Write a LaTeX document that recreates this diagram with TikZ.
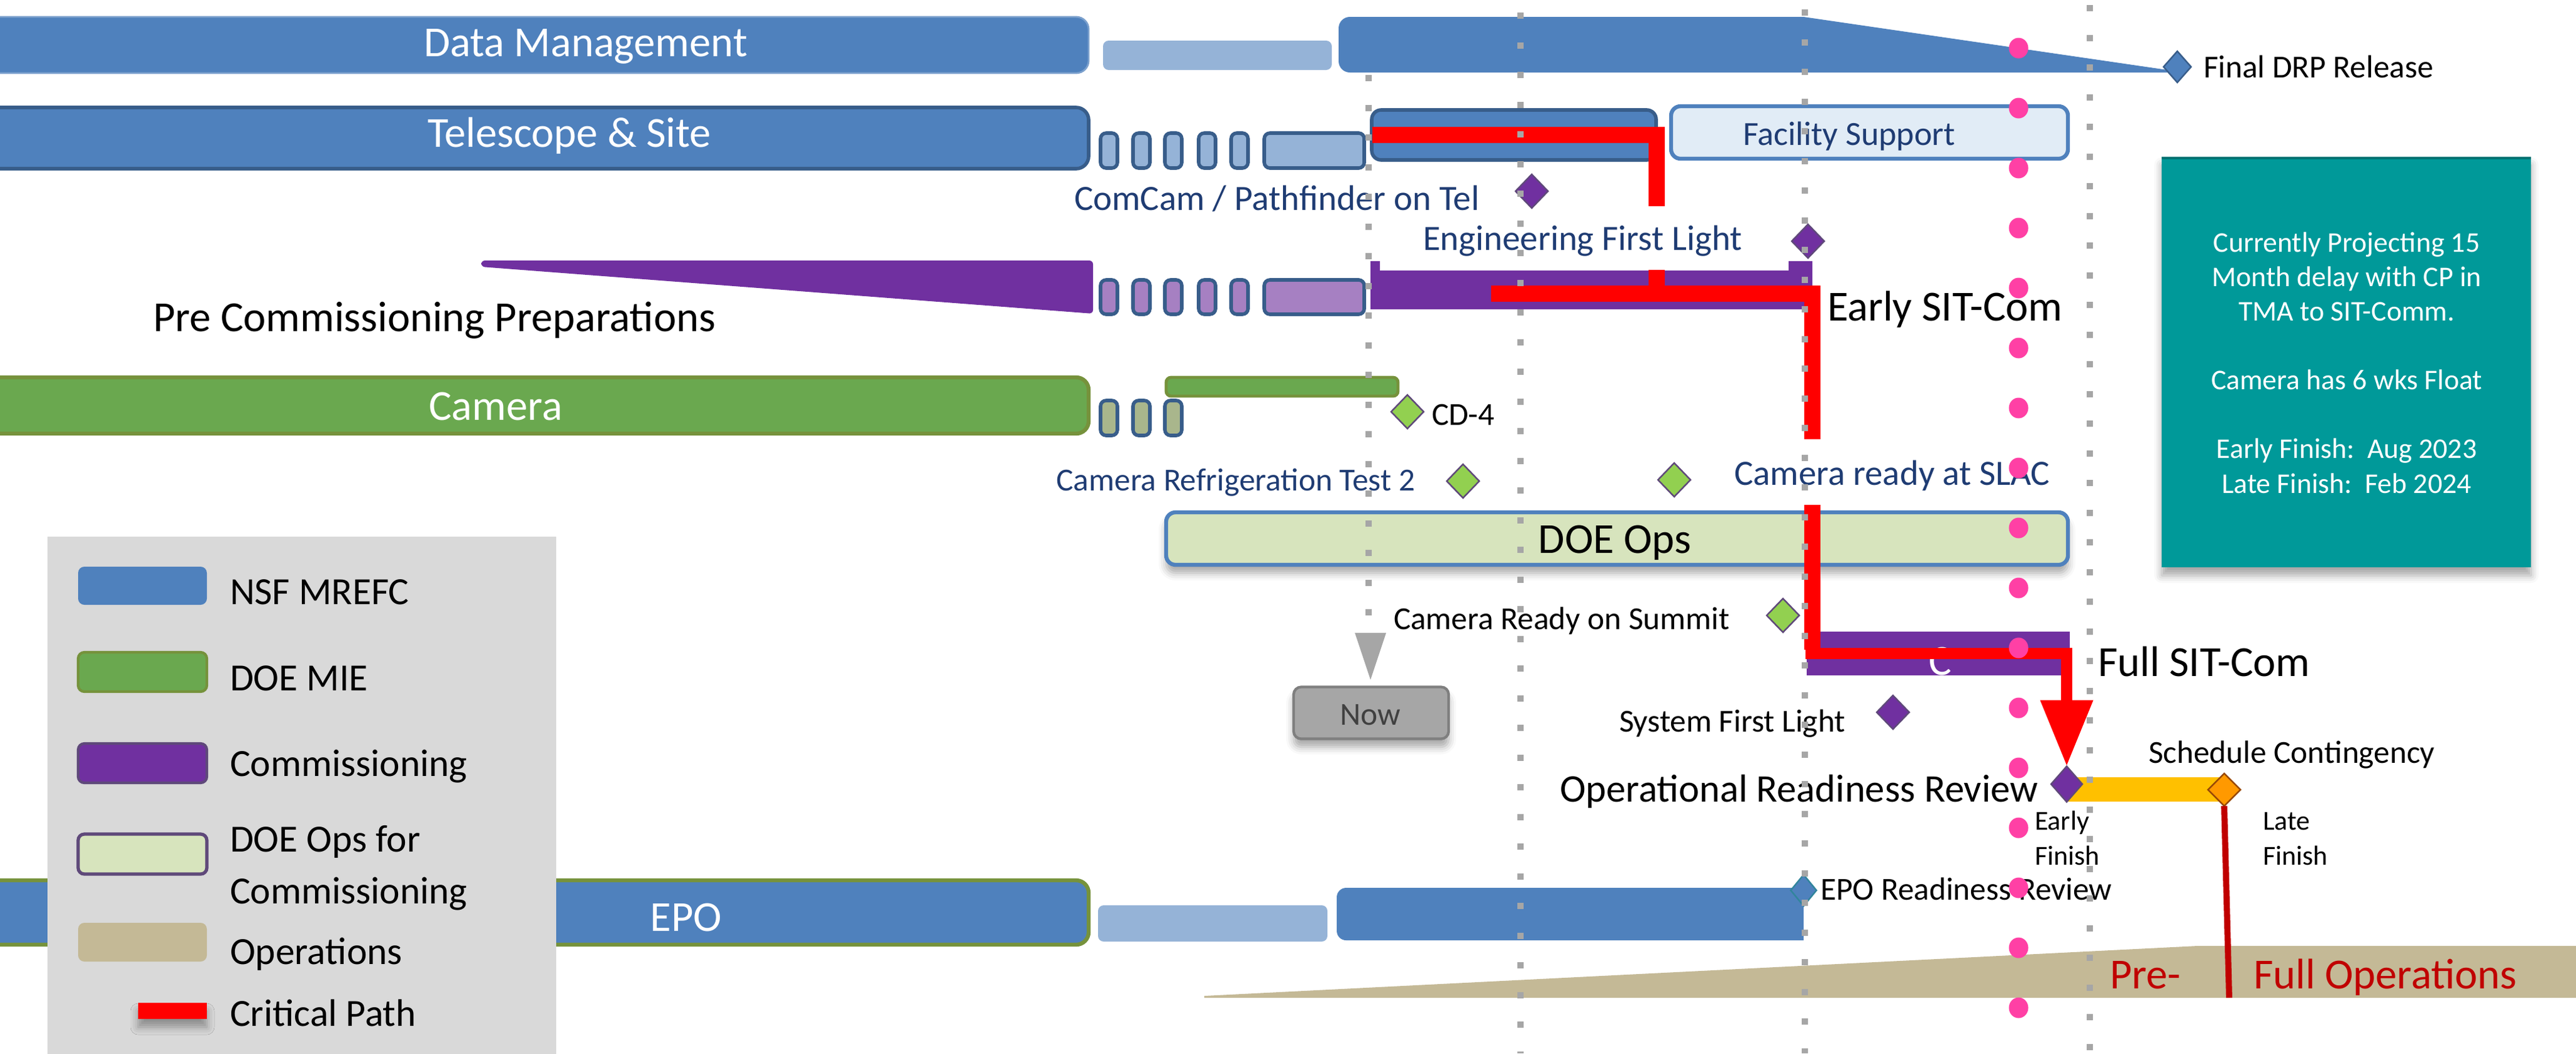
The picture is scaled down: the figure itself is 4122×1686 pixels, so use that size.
\documentclass[tikz,border=0pt]{standalone}
\usepackage{fontspec}
\setmainfont{Carlito}
\usetikzlibrary{shapes.geometric,arrows.meta,shadows.blur}
\definecolor{blueM}{HTML}{4F81BD}
\definecolor{blueL}{HTML}{95B3D7}
\definecolor{navyB}{HTML}{385D8A}
\definecolor{purp}{HTML}{7030A0}
\definecolor{purpL}{HTML}{A680C2}
\definecolor{purpB}{HTML}{5F497A}
\definecolor{grn}{HTML}{6AA84F}
\definecolor{grnB}{HTML}{76923C}
\definecolor{grnL}{HTML}{D7E4BD}
\definecolor{grnD}{HTML}{92D050}
\definecolor{grnG}{HTML}{A9B68C}
\definecolor{cTan}{HTML}{C4B996}
\definecolor{cTeal}{HTML}{009999}
\definecolor{tealB}{HTML}{31859C}
\definecolor{pinkD}{HTML}{FF40A5}
\definecolor{legG}{HTML}{D9D9D9}
\definecolor{navyT}{HTML}{1F3C73}
\definecolor{facF}{HTML}{E1ECF6}
\definecolor{redC}{HTML}{FF0000}
\definecolor{redD}{HTML}{C00000}
\definecolor{amber}{HTML}{FFC000}
\definecolor{orng}{HTML}{FF9900}
\definecolor{orngB}{HTML}{984807}
\definecolor{grayN}{HTML}{A6A6A6}
\definecolor{grayD}{HTML}{7F7F7F}
\definecolor{grayT}{HTML}{404040}
\definecolor{dashG}{HTML}{A6A6A6}
\begin{document}
\begin{tikzpicture}[x=0.1mm,y=-0.1mm,
 lbl/.style={inner sep=0pt,outer sep=0pt},
 fA/.style={font=\fontsize{19.5}{23}\selectfont},
 fB/.style={font=\fontsize{17.8}{21}\selectfont},
 fLeg/.style={font=\fontsize{17.5}{21}\selectfont},
 fC/.style={font=\fontsize{16.2}{19}\selectfont},
 fD/.style={font=\fontsize{15.4}{18}\selectfont},
 fE/.style={font=\fontsize{14.6}{17}\selectfont},
 fF/.style={font=\fontsize{13}{15.6}\selectfont},
 fG/.style={font=\fontsize{12.5}{15}\selectfont},
 ms/.style={diamond,inner sep=0pt,outer sep=0pt,line width=0.7pt,minimum width=5.2mm,minimum height=5.4mm},
 msP/.style={ms,fill=purp,draw=purpB},
 msG/.style={ms,fill=grnD,draw=purpB},
 seg/.style={rounded corners=0.9mm,line width=1.6pt,draw=navyB},
 crit/.style={draw=redC,line width=7.3pt},
 critThin/.style={draw=redC,line width=5pt},
 vdash/.style={draw=dashG,line width=2.8pt,dash pattern=on 1mm off 3.75mm},
 shd/.style={blur shadow={shadow xshift=0pt,shadow yshift=-1.3mm,shadow blur radius=1.2mm,shadow opacity=35}},
]
\useasboundingbox (0,0) rectangle (4122,1686);
\clip (0,0) rectangle (4122,1686);

% ---- Data Management row
\filldraw[fill=blueM,draw=blueM!75!white,line width=0.8pt,rounded corners=2mm] (-40,27) rectangle (1742,117);
\fill[blueL,rounded corners=0.9mm] (1765,65) rectangle (2131,112);
\fill[blueM] (3468,116) -- (3468,112) -- (2886,27) [rounded corners=1.8mm] -- (2142,27) -- (2142,116) [sharp corners] -- cycle;

% ---- Telescope row
\filldraw[fill=blueM,draw=navyB,line width=1.6pt,rounded corners=2mm] (-40,172) rectangle (1742,270);
\foreach \a/\b in {1761/1788,1813/1840,1864/1891,1918/1945,1970/1997,2023/2183}
  \filldraw[seg,fill=blueL] (\a,213) rectangle (\b,269);
\filldraw[fill=blueM,draw=navyB,line width=1.6pt,rounded corners=1.5mm] (2195,176) rectangle (2650,256);
\filldraw[fill=facF,draw=blueM,line width=1.8pt,rounded corners=1.5mm] (2674,170) rectangle (3309,254);

% ---- Commissioning row
\fill[purp,rounded corners=0.6mm] (770,417) -- (1749,417) -- (1749,502) -- (770,427) -- cycle;
\foreach \a/\b in {1761/1788,1813/1840,1864/1891,1918/1945,1970/1997,2023/2183}
  \filldraw[seg,fill=purpL] (\a,448) rectangle (\b,503);
\fill[purp] (2193,418) -- (2208,418) -- (2208,433) -- (2862,433) -- (2862,418) -- (2900,418) -- (2900,495) -- (2193,495) -- cycle;

% ---- Camera row
\filldraw[fill=grn,draw=grnB,line width=1.8pt,rounded corners=2mm] (-40,604) rectangle (1742,694);
\foreach \a/\b in {1761/1788,1813/1840,1864/1891}
  \filldraw[seg,fill=grnG] (\a,641) rectangle (\b,697);
\filldraw[fill=grn,draw=grnB,line width=1.4pt,rounded corners=0.8mm] (1866,604) rectangle (2237,634);

% ---- DOE Ops
\filldraw[shd,fill=grnL,draw=blueM,line width=1.8pt,rounded corners=1.5mm] (1866,820) rectangle (3309,904);

% ---- Full SIT-Com + contingency
\fill[purp] (2891,1011) rectangle (3312,1081);
\fill[amber] (3306,1244) rectangle (3556,1283);

% ---- EPO row
\filldraw[fill=blueM,draw=grnB,line width=1.8pt,rounded corners=2mm] (-40,1409) rectangle (1742,1512);
\fill[blueL,rounded corners=0.9mm] (1757,1449) rectangle (2124,1507);
\fill[blueM] (2886,1421) -- (2886,1505) [rounded corners=1.5mm] -- (2139,1505) -- (2139,1421) [sharp corners] -- cycle;

% ---- Operations wedge
\fill[cTan] (1927,1594) -- (3516,1514) -- (4130,1514) -- (4130,1597) -- (1927,1597) -- cycle;

% ---- Teal box
\fill[shd,cTeal] (3459,251) rectangle (4050,908);
\draw[cTeal!75!black,line width=1pt] (3459,253) -- (4050,253);

% ---- Now marker
\fill[grayN] (2168,1013) -- (2218,1013) -- (2193,1088) -- cycle;
\node[shd,draw=grayD,fill=grayN,line width=1.2pt,rounded corners=1.2mm,minimum width=24.8mm,minimum height=8.3mm,inner sep=0pt] (nowbox) at (2194,1141) {};

% ---- Legend
\fill[legG] (76,859) rectangle (890,1700);
\fill[blueM,rounded corners=1mm] (125,907) rectangle (331,968);
\filldraw[fill=grn,draw=grnB,line width=1.2pt,rounded corners=1mm] (125,1044) rectangle (331,1107);
\filldraw[fill=purp,draw=purpB,line width=1.2pt,rounded corners=1mm] (125,1190) rectangle (331,1253);
\filldraw[fill=grnL,draw=purpB,line width=1.5pt,rounded corners=1mm] (125,1335) rectangle (331,1399);
\fill[cTan,rounded corners=1mm] (125,1477) rectangle (331,1539);
\fill[shd,redC] (221,1605) rectangle (331,1631);
\node[lbl,fLeg,anchor=base west] (lg1) at (368,967) {NSF MREFC};
\node[lbl,fLeg,anchor=base west] (lg2) at (368,1105) {DOE MIE};
\node[lbl,fLeg,anchor=base west] (lg3) at (368,1242) {Commissioning};
\node[lbl,fLeg,anchor=base west] (lg4a) at (368,1363) {DOE Ops for};
\node[lbl,fLeg,anchor=base west] (lg4b) at (368,1446) {Commissioning};
\node[lbl,fLeg,anchor=base west] (lg5) at (368,1543) {Operations};
\node[lbl,fLeg,anchor=base west] (lg6) at (368,1642) {Critical Path};

% ---- Labels
\node[lbl,fA,white,anchor=base] (tDM) at (937,90) {Data Management};
\node[lbl,fA,white,anchor=base] (tTS) at (911,235) {Telescope \& Site};
\node[lbl,fA,anchor=base west] (tPre) at (245,530) {Pre Commissioning Preparations};
\node[lbl,fA,white,anchor=base] (tCam) at (793,672) {Camera};
\node[lbl,fA,white,anchor=base] (tEPO) at (1098,1490) {EPO};
\node[lbl,fE,anchor=base west] (tFDRP) at (3526,124) {Final DRP Release};
\node[lbl,fD,navyT,anchor=base] (tFac) at (2959,232) {Facility Support};
\node[lbl,fC,navyT,anchor=base west] (tCom) at (1719,336) {ComCam / Pathfinder on Tel};
\node[lbl,fC,navyT,anchor=base west] (tEFL) at (2277,400) {Engineering First Light};
\node[lbl,fA,anchor=base west] (tESC) at (2924,513) {Early SIT-Com};
\node[lbl,fE,anchor=base west] (tCD4) at (2291,680) {CD-4};
\node[lbl,fE,navyT,anchor=base east] (tCRT) at (2264,785) {Camera Refrigeration Test 2};
\node[lbl,fC,navyT,anchor=base west] (tSLAC) at (2775,776) {Camera ready at SLAC};
\node[lbl,fA,anchor=base] (tDOE) at (2584,885) {DOE Ops};
\node[lbl,fE,anchor=base west] (tCRS) at (2230,1007) {Camera Ready on Summit};
\node[lbl,fA,white,anchor=base west] (tC) at (3086,1080) {C};
\node[lbl,fA,anchor=base west] (tFSC) at (3357,1082) {Full SIT-Com};
\node[lbl,fE,grayT,anchor=base] (tNow) at (2193,1160) {Now};
\node[lbl,fE,anchor=base west] (tSFL) at (2591,1171) {System First Light};
\node[lbl,fE,anchor=base west] (tSch) at (3438,1221) {Schedule Contingency};
\node[lbl,fB,anchor=base east] (tORR) at (3261,1283) {Operational Readiness Review};
\node[lbl,fG,anchor=base west] (tEF1) at (3256,1328) {Early};
\node[lbl,fG,anchor=base west] (tEF2) at (3256,1384) {Finish};
\node[lbl,fG,anchor=base west] (tLF1) at (3621,1328) {Late};
\node[lbl,fG,anchor=base west] (tLF2) at (3621,1384) {Finish};
\node[lbl,fE,anchor=base west] (tEPOR) at (2913,1440) {EPO Readiness Review};
\node[lbl,fA,redD,anchor=base west] (tPreO) at (3376,1582) {Pre-};
\node[lbl,fA,redD,anchor=base west] (tFull) at (3606,1582) {Full Operations};

% ---- Teal box text
\node[lbl,fF,white,anchor=base] (tb1) at (3755,403) {Currently Projecting 15};
\node[lbl,fF,white,anchor=base] (tb2) at (3755,458) {Month delay with CP in};
\node[lbl,fF,white,anchor=base] (tb3) at (3755,513) {TMA to SIT-Comm.};
\node[lbl,fF,white,anchor=base] (tb4) at (3755,623) {Camera has 6 wks Float};
\node[lbl,fF,white,anchor=base] (tb5) at (3755,733) {Early Finish:\ \ Aug 2023};
\node[lbl,fF,white,anchor=base] (tb6) at (3755,789) {Late Finish:\ \ Feb 2024};

% ---- Milestones
\node[ms,fill=blueM,draw=navyB,minimum width=4.4mm,minimum height=5mm] (dFDRP) at (3484,107) {};
\node[msP] (dCom) at (2451,306) {};
\node[msP] (dEFL) at (2893,386) {};
\node[msG] (dCD4) at (2252,659) {};
\node[msG] (dCRT) at (2341,770) {};
\node[msG] (dSLAC) at (2679,768) {};
\node[msG] (dCRS) at (2853,985) {};
\node[msP] (dSFL) at (3029,1140) {};
\node[msP,minimum width=5mm,minimum height=5.7mm] (dORR) at (3307,1255) {};
\node[ms,fill=orng,draw=orngB,minimum width=5.2mm,minimum height=5.2mm] (dLate) at (3559,1264) {};
\node[ms,fill=blueM,draw=tealB,minimum width=4.1mm,minimum height=5mm] (dEPO) at (2886,1425) {};

% ---- Critical path
\coordinate (r1) at (2196,216);
\coordinate (r2) at (2651,216);
\coordinate (r3) at (2651,330);
\coordinate (r4) at (2651,432);
\coordinate (r5) at (2651,470);
\coordinate (r6) at (2386,470);
\coordinate (r7) at (2900,470);
\coordinate (r8) at (2900,703);
\coordinate (r9) at (2900,808);
\coordinate (r10) at (2900,1040);
\coordinate (r11) at (2889,1046);
\coordinate (r12) at (3307,1046);
\draw[crit] (r1) -- (r2) -- (r3);
\draw[crit] (r4) -- (r5);
\draw[crit] (r6) -- (r7) -- (r8);
\draw[crit] (r9) -- (r10);
\draw[critThin,-{Triangle[width=8mm,length=10.6mm]}] (r11) -- (r12) -- (dORR.north);

% ---- Late finish line
\coordinate (lf) at (3567,1597);
\draw[redD,line width=2.8pt] (dLate.south) -- (lf);

% ---- Vertical dashed lines
\draw[vdash] (2190,120) -- (2190,1010);
\draw[vdash] (2433,20) -- (2433,1686);
\draw[vdash] (2888,15) -- (2888,1686);
\draw[vdash] (3344,8) -- (3344,1686);

% ---- Pink dots
\foreach \k in {0,...,16}
  \fill[pinkD] (3230,{77+96*\k}) ellipse [x radius=1.55mm,y radius=1.65mm];
\end{tikzpicture}
\end{document}
